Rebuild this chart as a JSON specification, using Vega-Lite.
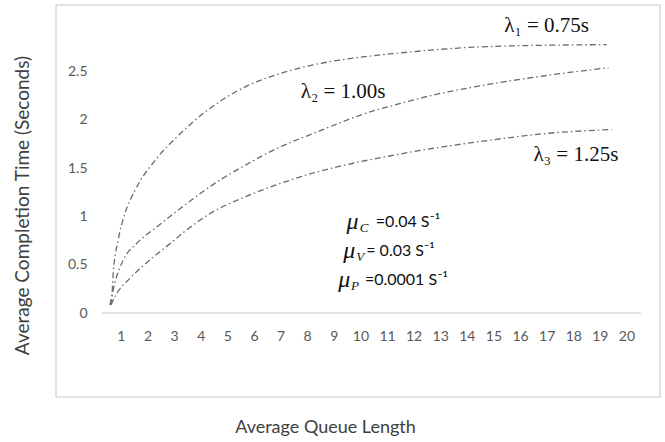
{
  "$schema": "https://vega.github.io/schema/vega-lite/v6.json",
  "width": 604,
  "height": 392,
  "autosize": {"type": "none"},
  "padding": {"left": 56, "top": 5, "right": 5, "bottom": 40},
  "background": "white",
  "config": {"view": {"stroke": "#d9d9d9", "strokeWidth": 1.5}, "axis": {"labelOverlap": false}},
  "datasets": {
    "curves": [
      {"series": "l1", "x": 0.59, "y": 0.083},
      {"series": "l1", "x": 0.65, "y": 0.135},
      {"series": "l1", "x": 0.71, "y": 0.41},
      {"series": "l1", "x": 0.9, "y": 0.76},
      {"series": "l1", "x": 1.15, "y": 1.03},
      {"series": "l1", "x": 1.53, "y": 1.27},
      {"series": "l1", "x": 2.34, "y": 1.6},
      {"series": "l1", "x": 3.09, "y": 1.82},
      {"series": "l1", "x": 4.35, "y": 2.12},
      {"series": "l1", "x": 5.73, "y": 2.35},
      {"series": "l1", "x": 6.98, "y": 2.48},
      {"series": "l1", "x": 8.23, "y": 2.57},
      {"series": "l1", "x": 9.23, "y": 2.62},
      {"series": "l1", "x": 11.36, "y": 2.69},
      {"series": "l1", "x": 14.87, "y": 2.76},
      {"series": "l1", "x": 19.26, "y": 2.78},
      {"series": "l2", "x": 0.59, "y": 0.083},
      {"series": "l2", "x": 0.77, "y": 0.31},
      {"series": "l2", "x": 1.09, "y": 0.55},
      {"series": "l2", "x": 1.59, "y": 0.72},
      {"series": "l2", "x": 2.34, "y": 0.89},
      {"series": "l2", "x": 3.22, "y": 1.08},
      {"series": "l2", "x": 4.35, "y": 1.31},
      {"series": "l2", "x": 5.73, "y": 1.54},
      {"series": "l2", "x": 6.98, "y": 1.72},
      {"series": "l2", "x": 8.23, "y": 1.86},
      {"series": "l2", "x": 9.23, "y": 1.97},
      {"series": "l2", "x": 10.11, "y": 2.06},
      {"series": "l2", "x": 11.36, "y": 2.16},
      {"series": "l2", "x": 12.62, "y": 2.25},
      {"series": "l2", "x": 14.87, "y": 2.37},
      {"series": "l2", "x": 17.0, "y": 2.46},
      {"series": "l2", "x": 19.32, "y": 2.54},
      {"series": "l3", "x": 0.62, "y": 0.083},
      {"series": "l3", "x": 0.84, "y": 0.2},
      {"series": "l3", "x": 1.34, "y": 0.36},
      {"series": "l3", "x": 2.09, "y": 0.55},
      {"series": "l3", "x": 2.72, "y": 0.69},
      {"series": "l3", "x": 3.47, "y": 0.86},
      {"series": "l3", "x": 4.35, "y": 1.03},
      {"series": "l3", "x": 5.73, "y": 1.21},
      {"series": "l3", "x": 6.98, "y": 1.34},
      {"series": "l3", "x": 8.23, "y": 1.45},
      {"series": "l3", "x": 9.23, "y": 1.52},
      {"series": "l3", "x": 11.36, "y": 1.64},
      {"series": "l3", "x": 14.87, "y": 1.79},
      {"series": "l3", "x": 17.0, "y": 1.86},
      {"series": "l3", "x": 19.45, "y": 1.9}
    ],
    "lambdas": [
      {"x": 17.0, "y": 2.97, "label": "λ₁ = 0.75s"},
      {"x": 9.35, "y": 2.29, "label": "λ₂ = 1.00s"},
      {"x": 18.1, "y": 1.64, "label": "λ₃ = 1.25s"}
    ],
    "mus": [
      {"mx": 9.48, "sx": 9.98, "rx": 10.58, "y": 0.943, "sub": "C", "rest": "=0.04 S⁻¹"},
      {"mx": 9.36, "sx": 9.84, "rx": 10.22, "y": 0.642, "sub": "V", "rest": "=  0.03 S⁻¹"},
      {"mx": 9.17, "sx": 9.65, "rx": 10.17, "y": 0.342, "sub": "P", "rest": "=0.0001 S⁻¹"}
    ],
    "base": [{"x": 0.28, "x2": 20.54, "y": 0}]
  },
  "layer": [
    {
      "data": {"name": "base"},
      "mark": {"type": "rule", "color": "#d9d9d9", "strokeWidth": 1.5},
      "encoding": {
        "x": {
          "field": "x", "type": "quantitative",
          "scale": {"domain": [-1.44, 21.26], "nice": false, "zero": false},
          "axis": {
            "values": [1,2,3,4,5,6,7,8,9,10,11,12,13,14,15,16,17,18,19,20],
            "tickCount": 30,
            "offset": -84,
            "domain": false, "ticks": false, "grid": false,
            "labelOverlap": false,
            "labelPadding": 16,
            "labelFont": "Lato", "labelFontSize": 14, "labelColor": "#595959",
            "title": "Average Queue Length",
            "titleFont": "Lato", "titleFontSize": 18, "titleFontWeight": "normal", "titleColor": "#404040",
            "titleX": 269, "titleY": 114, "titleBaseline": "middle"
          }
        },
        "x2": {"field": "x2"},
        "y": {
          "field": "y", "type": "quantitative",
          "scale": {"domain": [-0.87, 3.19], "nice": false, "zero": false},
          "axis": {
            "values": [0, 0.5, 1, 1.5, 2, 2.5],
            "tickCount": 10,
            "format": "~g",
            "offset": -36,
            "domain": false, "ticks": false, "grid": false,
            "labelPadding": 5,
            "labelFont": "Lato", "labelFontSize": 14, "labelColor": "#595959",
            "title": "Average Completion Time (Seconds)",
            "titleFont": "Lato", "titleFontSize": 19, "titleFontWeight": "normal", "titleColor": "#404040",
            "titleX": -70, "titleY": 200, "titleBaseline": "middle", "titleAngle": -90
          }
        }
      }
    },
    {
      "data": {"name": "curves"},
      "mark": {"type": "line", "interpolate": "monotone", "color": "#6b6b6b", "strokeWidth": 1.3, "strokeDash": [6, 3, 1.5, 3]},
      "encoding": {
        "x": {"field": "x", "type": "quantitative"},
        "y": {"field": "y", "type": "quantitative"},
        "detail": {"field": "series"}
      }
    },
    {
      "data": {"name": "lambdas"},
      "mark": {"type": "text", "font": "Liberation Serif", "fontSize": 21, "color": "#111111", "align": "center", "baseline": "middle"},
      "encoding": {
        "x": {"field": "x", "type": "quantitative"},
        "y": {"field": "y", "type": "quantitative"},
        "text": {"field": "label"}
      }
    },
    {
      "data": {"name": "mus"},
      "mark": {"type": "text", "font": "Liberation Serif", "fontSize": 24, "fontStyle": "italic", "color": "#111111", "align": "left", "baseline": "middle"},
      "encoding": {
        "x": {"field": "mx", "type": "quantitative"},
        "y": {"field": "y", "type": "quantitative"},
        "text": {"value": "μ"}
      }
    },
    {
      "data": {"name": "mus"},
      "mark": {"type": "text", "font": "Liberation Serif", "fontSize": 13, "fontStyle": "italic", "color": "#111111", "align": "left", "baseline": "middle", "dy": 6},
      "encoding": {
        "x": {"field": "sx", "type": "quantitative"},
        "y": {"field": "y", "type": "quantitative"},
        "text": {"field": "sub"}
      }
    },
    {
      "data": {"name": "mus"},
      "mark": {"type": "text", "font": "Lato", "fontSize": 16, "color": "#111111", "align": "left", "baseline": "middle"},
      "encoding": {
        "x": {"field": "rx", "type": "quantitative"},
        "y": {"field": "y", "type": "quantitative"},
        "text": {"field": "rest"}
      }
    }
  ]
}
